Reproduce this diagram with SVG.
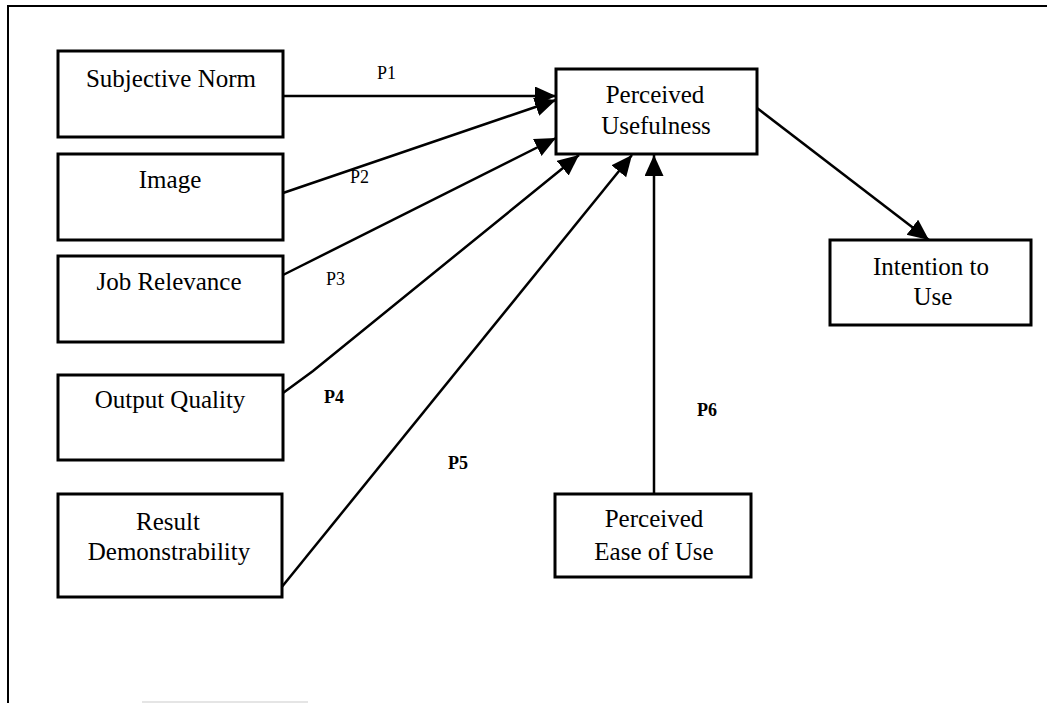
<svg xmlns="http://www.w3.org/2000/svg" width="1047" height="703" viewBox="0 0 1047 703">
  <style>
    .box { fill: #fff; stroke: #000; stroke-width: 3; }
    .lbl { font-family: "Liberation Serif", "Times New Roman", serif; font-size: 25px; fill: #000; text-anchor: middle; }
    .p { font-family: "Liberation Serif", "Times New Roman", serif; font-size: 18px; fill: #000; }
    .pb { font-weight: bold; }
    .edge { fill: none; stroke: #000; stroke-width: 2.5; marker-end: url(#head); }
    .frame { fill: none; stroke: #000; stroke-width: 2; }
  </style>
  <defs>
    <marker id="head" markerUnits="userSpaceOnUse" markerWidth="22" markerHeight="20" refX="21" refY="9.5" orient="auto">
      <path d="M0,0 L21,9.5 L0,19 Z" fill="#000"/>
    </marker>
  </defs>

  <rect width="1047" height="703" fill="#fff"/>

  <!-- page frame: top and left rules only -->
  <path class="frame" d="M8,703 L8,6 L1047,6"/>
  <line x1="142" y1="702" x2="308" y2="702" stroke="#ddd" stroke-width="1.5"/>

  <!-- connectors -->
  <g id="connectors">
    <path class="edge" d="M283,96 L556,96"/>
    <path class="edge" d="M283,193 L556,100"/>
    <path class="edge" d="M283,275 L556,138"/>
    <path class="edge" d="M283,393 L313,371 L579,155"/>
    <path class="edge" d="M281,588 L632,155"/>
    <path class="edge" d="M654,494 L654,155"/>
    <path class="edge" d="M757,108 L929,240"/>
    <text class="p" x="377" y="79">P1</text>
    <text class="p" x="350" y="183">P2</text>
    <text class="p" x="326" y="285">P3</text>
    <text class="p pb" x="324" y="403">P4</text>
    <text class="p pb" x="448" y="469">P5</text>
    <text class="p pb" x="697" y="416">P6</text>
  </g>

  <g id="subjective-norm">
    <rect class="box" x="58" y="51" width="225" height="86"/>
    <text class="lbl" x="171" y="87">Subjective Norm</text>
  </g>
  <g id="image">
    <rect class="box" x="58" y="154" width="225" height="86"/>
    <text class="lbl" x="170" y="188">Image</text>
  </g>
  <g id="job-relevance">
    <rect class="box" x="58" y="256" width="225" height="86"/>
    <text class="lbl" x="169" y="290">Job Relevance</text>
  </g>
  <g id="output-quality">
    <rect class="box" x="58" y="375" width="225" height="85"/>
    <text class="lbl" x="170" y="408">Output Quality</text>
  </g>
  <g id="result-demonstrability">
    <rect class="box" x="58" y="494" width="224" height="103"/>
    <text class="lbl" x="168" y="530">Result</text>
    <text class="lbl" x="169" y="560">Demonstrability</text>
  </g>
  <g id="perceived-usefulness">
    <rect class="box" x="556" y="69" width="201" height="85"/>
    <text class="lbl" x="655" y="103">Perceived</text>
    <text class="lbl" x="656" y="134">Usefulness</text>
  </g>
  <g id="intention-to-use">
    <rect class="box" x="830" y="240" width="201" height="85"/>
    <text class="lbl" x="931" y="275">Intention to</text>
    <text class="lbl" x="933" y="305">Use</text>
  </g>
  <g id="perceived-ease-of-use">
    <rect class="box" x="555" y="494" width="196" height="83"/>
    <text class="lbl" x="654" y="527">Perceived</text>
    <text class="lbl" x="654" y="560">Ease of Use</text>
  </g>
</svg>
